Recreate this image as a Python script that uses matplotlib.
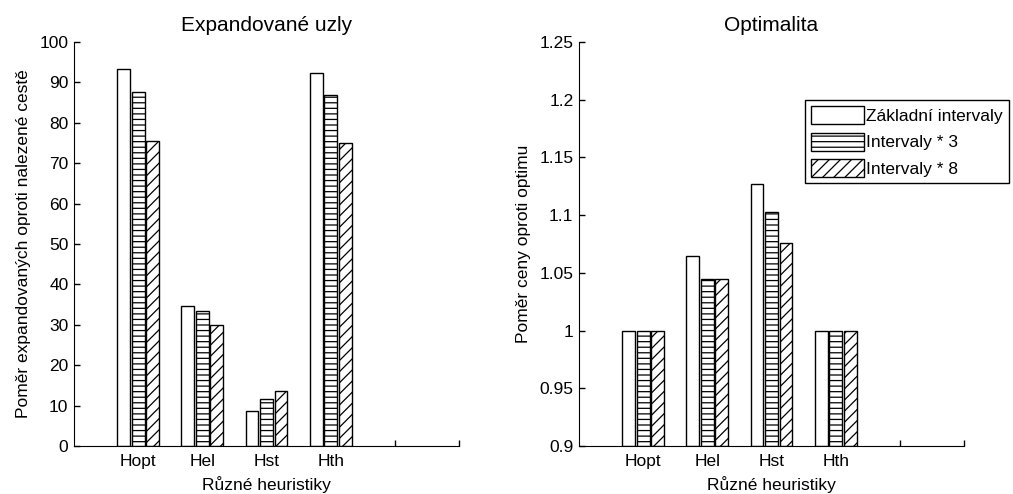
import matplotlib
matplotlib.use('Agg')
import matplotlib.pyplot as plt
from matplotlib.ticker import FuncFormatter
import numpy as np

plt.rcParams['font.family'] = ['Liberation Sans', 'DejaVu Sans']
plt.rcParams['font.size'] = 12.5
plt.rcParams['hatch.linewidth'] = 0.9

heuristics = ['Hopt', 'Hel', 'Hst', 'Hth']
series_names = ['Základní intervaly', 'Intervaly * 3', 'Intervaly * 8']

expanded_base = [93.3, 34.7, 8.7, 92.4]
expanded_x3 = [87.5, 33.4, 11.6, 86.8]
expanded_x8 = [75.4, 30.0, 13.7, 75.0]

optimal_base = [1.0, 1.065, 1.127, 1.0]
optimal_x3 = [1.0, 1.045, 1.1025, 1.0]
optimal_x8 = [1.0, 1.045, 1.076, 1.0]

hatches = ['', '---', '///']
fig_w, fig_h = 1013, 494


def draw_bars(ax, groups, floor):
    x = np.arange(1, len(heuristics) + 1)
    width = 0.2
    offsets = [-0.227, 0.0, 0.227]
    for vals, off, h, name in zip(groups, offsets, hatches, series_names):
        heights = [v - floor for v in vals]
        ax.bar(x + off, heights, width, bottom=floor, color='white',
               edgecolor='black', linewidth=1.0, hatch=h, label=name)
    ax.set_xlim(0, 6)
    ax.set_xticks([1, 2, 3, 4, 5, 6])
    ax.set_xticklabels(heuristics + ['', ''])
    ax.spines['top'].set_visible(False)
    ax.spines['right'].set_visible(False)
    ax.tick_params(direction='in', length=4, width=1)
    ax.tick_params(axis='x', pad=6)
    ax.tick_params(axis='y', pad=4)
    ax.set_axisbelow(True)
    ax.set_xlabel('Různé heuristiky', labelpad=5)


fig = plt.figure(figsize=(fig_w / 100.0, fig_h / 100.0), dpi=100)

# left: expanded nodes
ax1 = fig.add_axes([74 / fig_w, 1 - 446 / fig_h, 385 / fig_w, 404 / fig_h])
draw_bars(ax1, [expanded_base, expanded_x3, expanded_x8], 0)
ax1.set_ylim(0, 100)
ax1.set_yticks(np.arange(0, 101, 10))
ax1.set_title('Expandované uzly', pad=8)
ax1.set_ylabel('Poměr expandovaných oproti nalezené cestě', labelpad=6)

# right: optimality
ax2 = fig.add_axes([579 / fig_w, 1 - 446 / fig_h, 385 / fig_w, 404 / fig_h])
draw_bars(ax2, [optimal_base, optimal_x3, optimal_x8], 0.9)
ax2.set_ylim(0.9, 1.25)
ax2.set_yticks([0.9, 0.95, 1.0, 1.05, 1.1, 1.15, 1.2, 1.25])
ax2.yaxis.set_major_formatter(FuncFormatter(lambda v, p: '%g' % round(v, 2)))
ax2.set_title('Optimalita', pad=8)
ax2.set_ylabel('Poměr ceny oproti optimu', labelpad=6)

leg = ax2.legend(loc='upper left', bbox_to_anchor=(0.588, 0.856),
                 fancybox=False, framealpha=1, edgecolor='black',
                 handlelength=3.0, handleheight=1.2, handletextpad=0.15,
                 borderpad=0.35, labelspacing=0.5, borderaxespad=0)
leg.get_frame().set_linewidth(1.0)

fig.savefig('out.png', dpi=100)
plt.close('all')
